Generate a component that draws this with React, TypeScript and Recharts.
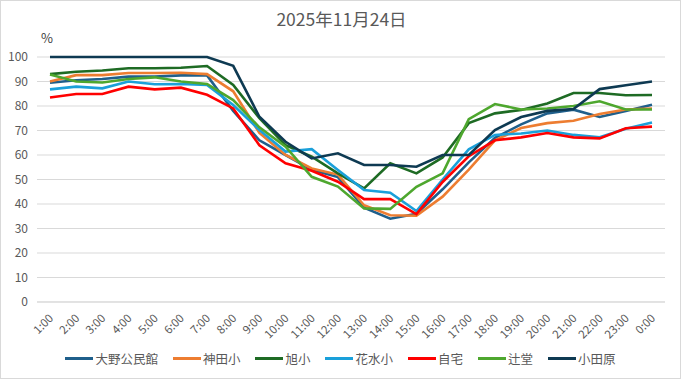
import React from 'react';
import { LineChart, Line, XAxis, YAxis, CartesianGrid, Legend } from 'recharts';

const times = ['1:00','2:00','3:00','4:00','5:00','6:00','7:00','8:00','9:00','10:00','11:00','12:00','13:00','14:00','15:00','16:00','17:00','18:00','19:00','20:00','21:00','22:00','23:00','0:00'];
const yTicks = [0, 10, 20, 30, 40, 50, 60, 70, 80, 90, 100];

const oono = [89.5, 90.5, 91, 92, 92, 92.5, 92.5, 78, 66, 60, 54, 51, 38.5, 34, 36, 46, 57, 67, 72.5, 77, 78.5, 75.5, 78, 80.5];
const kanda = [90, 92.6, 92.6, 93.5, 93.5, 93.6, 93, 86, 69, 60, 54.5, 52, 39.5, 35.4, 35.2, 43, 54, 66, 71, 73, 74, 76.7, 78.6, 79];
const asahi = [93, 94, 94.5, 95.4, 95.4, 95.6, 96.3, 88.6, 75, 64, 59.3, 52.5, 46.4, 56.6, 52.5, 59, 73, 77, 78.4, 81, 85.3, 85.3, 84.4, 84.5];
const hanamizu = [86.8, 87.9, 87.2, 90, 88.9, 89, 88.6, 80.4, 70.2, 61.4, 62.4, 53.9, 45.7, 44.6, 37.1, 50, 62.3, 68.2, 68.8, 70, 68.2, 67.2, 70.7, 73.3];
const jitaku = [83.5, 84.9, 84.9, 87.9, 86.8, 87.5, 84.6, 79, 64, 56.6, 53.6, 49.1, 42, 42, 35.9, 49, 59.5, 66, 67.2, 69, 67.2, 66.8, 70.9, 71.6];
const tsujido = [92.9, 90, 89.6, 91, 91.7, 90, 89, 82.4, 71.3, 63.4, 51.1, 47.1, 38.2, 38, 47, 52.5, 74.6, 80.8, 78.6, 79, 80, 81.9, 78.6, 78.6];
const odawara = [100, 100, 100, 100, 100, 100, 100, 96.4, 75.6, 65.4, 58.6, 60.7, 55.9, 55.9, 55.2, 60, 60, 70.2, 75.5, 78, 78.8, 86.9, 88.5, 90];

const seriesNames = ['大野公民館', '神田小', '旭小', '花水小', '自宅', '辻堂', '小田原'];
const seriesValues = [oono, kanda, asahi, hanamizu, jitaku, tsujido, odawara];
const seriesColors = ['#1F5F8B', '#ED7D31', '#1E6B24', '#1AA0DA', '#FF0000', '#4EA72E', '#0E3A52'];

const data = times.map((t, i) => {
  const row: Record<string, any> = { time: t };
  seriesNames.forEach((n, k) => { row[n] = seriesValues[k][i]; });
  return row;
});

const FONT = '"Noto Sans CJK JP", "Noto Sans", sans-serif';

const XTick = (props: any) => {
  const { x, y, payload } = props;
  const tx = x + 4;
  const ty = y + 9;
  return (
    <text x={tx} y={ty} textAnchor="end" fontSize={11.5} fill="#595959" fontFamily={FONT}
      transform={`rotate(-45, ${tx}, ${ty})`}>{payload.value}</text>
  );
};

const LegendContent = () => (
  <div style={{ display: 'flex', justifyContent: 'center', alignItems: 'center', fontFamily: FONT, fontSize: 12.5, color: '#595959', height: 20 }}>
    {seriesNames.map((n, k) => (
      <div key={n} style={{ display: 'flex', alignItems: 'center', marginRight: k < seriesNames.length - 1 ? 15 : 0 }}>
        <div style={{ width: 28, height: 3, background: seriesColors[k], marginRight: 2 }} />
        <span>{n}</span>
      </div>
    ))}
  </div>
);

export default function App() {
  return (
    <div style={{ position: 'absolute', left: 0, top: 0, width: 681, height: 379, background: '#fff', border: '1px solid #D9D9D9', boxSizing: 'border-box', fontFamily: FONT }}>
      <div style={{ position: 'absolute', left: 0, top: 5, width: 681, textAlign: 'center', fontSize: 17.5, color: '#595959' }}>2025年11月24日</div>
      <div style={{ position: 'absolute', left: 40, top: 27, fontSize: 13, color: '#404040' }}>%</div>
      <div style={{ position: 'absolute', left: -1, top: -1 }}>
        <LineChart width={681} height={379} data={data} margin={{ top: 57, right: 16, bottom: 0, left: 7 }}>
          <CartesianGrid vertical={false} stroke="#D9D9D9" />
          <XAxis dataKey="time" interval={0} tick={<XTick />} tickLine={false} axisLine={{ stroke: '#D9D9D9' }} height={57} padding={{ left: 13, right: 13 }} />
          <YAxis domain={[0, 100]} ticks={yTicks} interval={0} width={30} tickLine={false} axisLine={false} tickSize={0} tickMargin={9}
            tick={{ fontSize: 12, fill: '#595959', fontFamily: FONT }} />
          <Legend content={<LegendContent />} height={20} wrapperStyle={{ position: 'absolute', top: 348, left: 0, width: 681 }} />
          {seriesNames.map((n, k) => (
            <Line key={n} type="linear" dataKey={n} stroke={seriesColors[k]} strokeWidth={2.6} dot={false} isAnimationActive={false} />
          ))}
        </LineChart>
      </div>
    </div>
  );
}
